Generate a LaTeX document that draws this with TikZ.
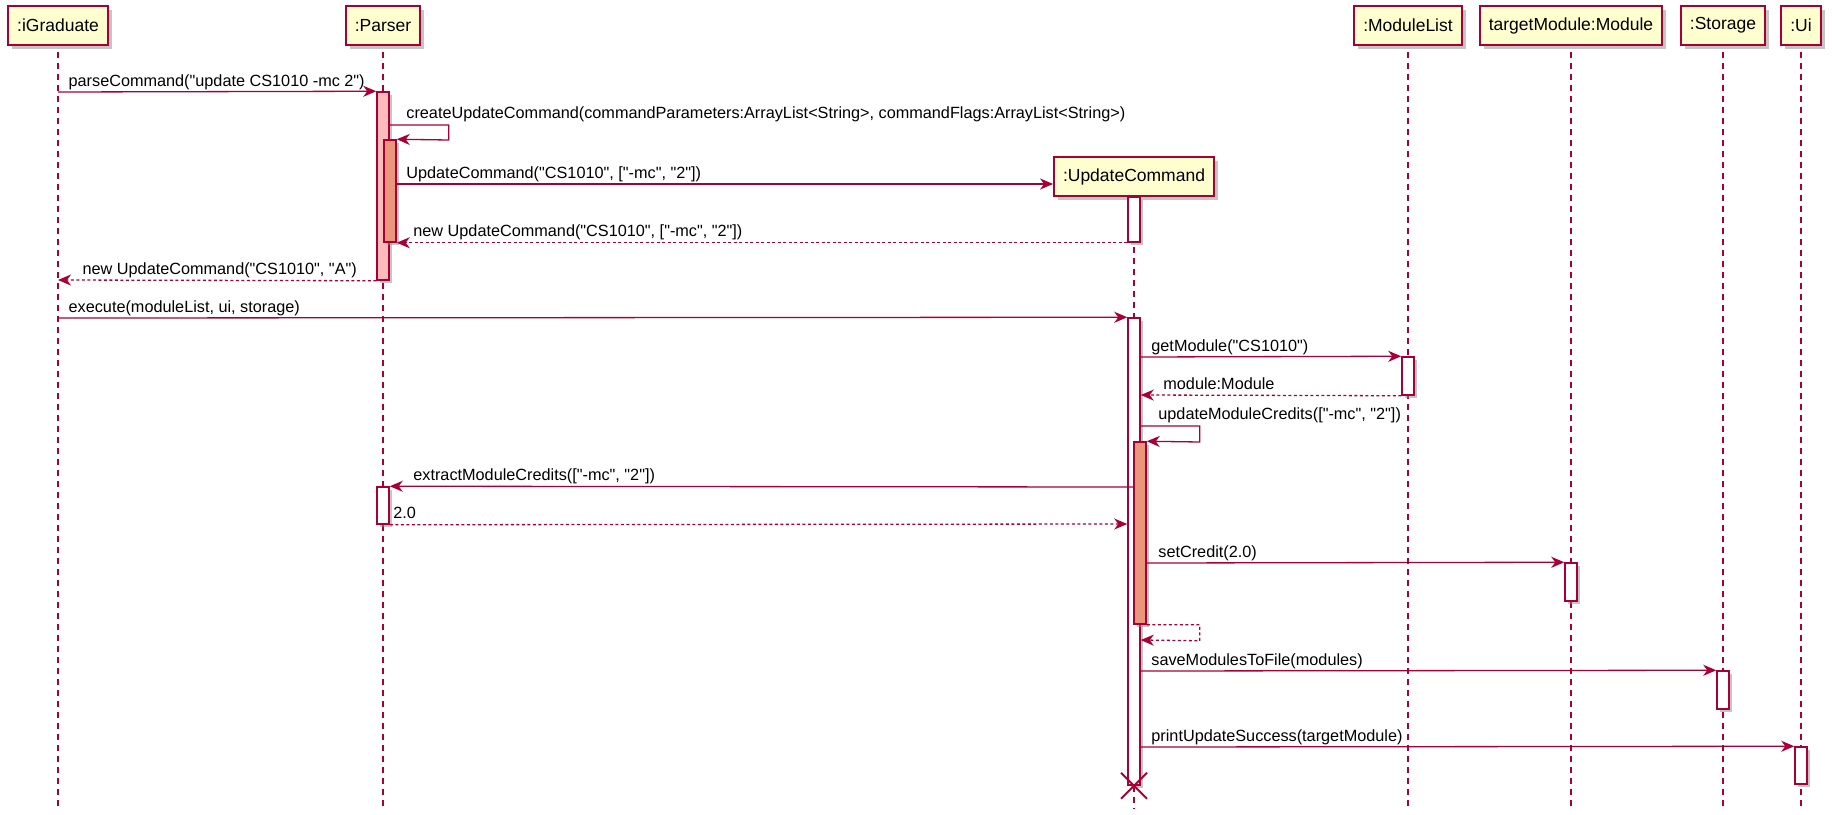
\documentclass[tikz,border=0pt]{standalone}
\usepackage{fontspec}
\setmainfont{Liberation Sans}[Ligatures=TeXOff]
\usepackage{tikz}
\usetikzlibrary{arrows.meta,calc,shadows}
\definecolor{UmlRed}{HTML}{A80036}
\definecolor{UmlPaper}{HTML}{FEFECE}
\definecolor{UmlPink}{HTML}{FFBBBB}
\definecolor{UmlSalmon}{HTML}{E9967A}

\begin{document}
\begin{tikzpicture}[x=1pt,y=-1pt,
  actor/.style={draw=UmlRed,line width=1.8pt,fill=UmlPaper,minimum height=39pt,inner xsep=9pt,
    font=\fontsize{17.5}{20}\selectfont,drop shadow={shadow xshift=4pt,shadow yshift=-4pt,fill=black!45,opacity=.5}},
  lifeline/.style={draw=UmlRed,line width=1.3pt,dash pattern=on 6pt off 5pt},
  actbar/.style={draw=UmlRed,line width=1.5pt,fill=white,minimum width=12pt,inner sep=0pt,
    drop shadow={shadow xshift=3pt,shadow yshift=-3pt,fill=black!45,opacity=.5}},
  msg/.style={draw=UmlRed,line width=1.3pt,-{Stealth[length=13pt,width=11pt,inset=4pt]}},
  retmsg/.style={msg,dash pattern=on 3pt off 2.5pt},
  lbl/.style={anchor=base west,inner sep=0pt,font=\fontsize{16.25}{19}\selectfont,text=black}]
  \useasboundingbox (0,0) rectangle (1834,814);

  \node[actor] (grad) at (58,25.5) {:iGraduate};
  \node[actor] (parser) at (383,25.5) {:Parser};
  \node[actor] (mlist) at (1408,25.5) {:ModuleList};
  \node[actor] (tmod) at (1571,25.5) {targetModule:Module};
  \node[actor] (store) at (1723,25.5) {:Storage};
  \node[actor] (ui) at (1801,25.5) {:Ui};
  \node[actor] (ucmd) at (1134,176.5) {:UpdateCommand};

  \foreach \p in {grad,parser,mlist,tmod,store,ui,ucmd}
    \draw[lifeline] ([yshift=-6pt]\p.south) -- (\p.south |- 0,808);

  \node[actbar,fill=UmlPink,minimum height=188pt] (parseAct) at (383,186) {};
  \node[actbar,fill=UmlSalmon,minimum height=102pt] (createAct) at (390,191) {};
  \node[actbar,minimum height=45pt] (newAct) at (1134,219.5) {};
  \node[actbar,minimum height=467pt] (execAct) at (1134,551.5) {};
  \node[actbar,minimum height=38pt] (getAct) at (1408,376) {};
  \node[actbar,fill=UmlSalmon,minimum height=182pt] (creditsAct) at (1140,533) {};
  \node[actbar,minimum height=37pt] (extractAct) at (383,505.5) {};
  \node[actbar,minimum height=38pt] (setAct) at (1571,582) {};
  \node[actbar,minimum height=38pt] (saveAct) at (1723,690) {};
  \node[actbar,minimum height=37pt] (printAct) at (1801,765.5) {};

  \draw[msg] (grad |- 0,92) node[lbl,xshift=10pt,yshift=6pt] {parseCommand("update CS1010 -mc 2")} -- (parseAct.north west);
  \draw[msg] (parseAct.east |- 0,125) node[lbl,xshift=16pt,yshift=7pt] {createUpdateCommand(commandParameters:ArrayList<String>, commandFlags:ArrayList<String>)}
    -- ++(59,0) -- ++(0,15) -- (createAct.north east);
  \draw[msg] (createAct.east |- 0,184) node[lbl,xshift=9pt,yshift=6pt] {UpdateCommand("CS1010", ["-mc", "2"])} -- (ucmd.west |- 0,184);
  \draw[retmsg] (newAct.south west) -- (createAct.south east) node[lbl,xshift=16pt,yshift=6pt] {new UpdateCommand("CS1010", ["-mc", "2"])};
  \draw[retmsg] (parseAct.south west) -- (grad |- 0,280) node[lbl,xshift=24pt,yshift=6pt] {new UpdateCommand("CS1010", "A")};
  \draw[msg] (grad |- 0,318) node[lbl,xshift=10pt,yshift=6pt] {execute(moduleList, ui, storage)} -- (execAct.north west);
  \draw[msg] (execAct.east |- 0,357) node[lbl,xshift=10pt,yshift=6pt] {getModule("CS1010")} -- (getAct.north west);
  \draw[retmsg] (getAct.south west) -- (execAct.east |- 0,395) node[lbl,xshift=22pt,yshift=6pt] {module:Module};
  \draw[msg] (execAct.east |- 0,426) node[lbl,xshift=17pt,yshift=7pt] {updateModuleCredits(["-mc", "2"])}
    -- ++(59,0) -- ++(0,16) -- (creditsAct.north east);
  \draw[msg] (creditsAct.west |- 0,487) -- (extractAct.north east) node[lbl,xshift=23pt,yshift=6pt] {extractModuleCredits(["-mc", "2"])};
  \draw[retmsg] (extractAct.south east) node[lbl,xshift=3pt,yshift=6pt] {2.0} -- (execAct.west |- 0,524);
  \draw[msg] (creditsAct.east |- 0,563) node[lbl,xshift=11pt,yshift=6pt] {setCredit(2.0)} -- (setAct.north west);
  \draw[retmsg] (creditsAct.south east) -- ++(53,0) -- ++(0,16) -- (execAct.east |- 0,640);
  \draw[msg] (execAct.east |- 0,671) node[lbl,xshift=10pt,yshift=6pt] {saveModulesToFile(modules)} -- (saveAct.north west);
  \draw[msg] (execAct.east |- 0,747) node[lbl,xshift=10pt,yshift=6pt] {printUpdateSuccess(targetModule)} -- (printAct.north west);

  \coordinate (kill) at (execAct.south);
  \draw[UmlRed,line width=2pt] (kill) +(-13,-13) -- +(13,13) (kill) +(-13,13) -- +(13,-13);
\end{tikzpicture}
\end{document}
